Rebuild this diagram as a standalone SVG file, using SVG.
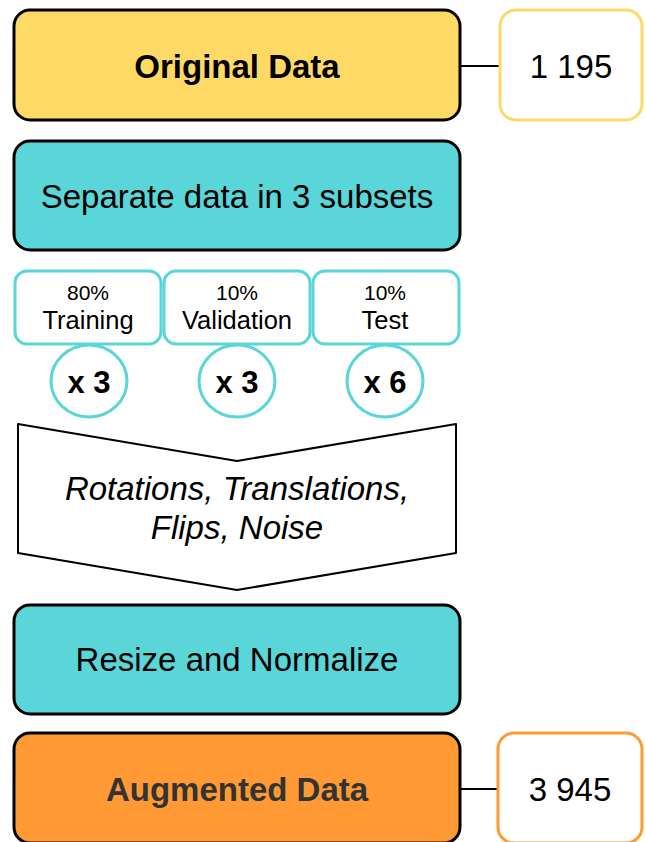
<svg xmlns="http://www.w3.org/2000/svg" width="645" height="842" viewBox="0 0 645 842">
<style>
text{font-family:"Liberation Sans",Arial,sans-serif;text-anchor:middle;fill:#000}
.main{stroke:#000;stroke-width:3}
.teal{fill:#5AD5D8}
.sub{fill:#fff;stroke:#5AD5D8;stroke-width:3}
.big{font-size:33px}
.bold{font-weight:bold}
</style>
<rect width="645" height="842" fill="#fff"/>
<g id="connectors" stroke="#000" stroke-width="2">
<line x1="460" y1="66" x2="499" y2="66"/>
<line x1="460" y1="789" x2="497" y2="789"/>
</g>
<g id="original">
<rect class="main" x="14" y="10" width="446" height="110" rx="16" fill="#FFD966"/>
<text x="237" y="78" class="big bold">Original Data</text>
</g>
<g id="count-original">
<rect x="500" y="10" width="142" height="110" rx="16" fill="#fff" stroke="#FFD966" stroke-width="3"/>
<text x="571" y="78" class="big">1 195</text>
</g>
<g id="separate">
<rect class="main teal" x="14" y="141" width="446" height="109" rx="16"/>
<text x="237" y="208" class="big">Separate data in 3 subsets</text>
</g>
<g id="training">
<rect class="sub" x="15" y="271" width="146" height="73" rx="12"/>
<text x="88" y="300" style="font-size:21px">80%</text>
<text x="88" y="329" style="font-size:25.5px">Training</text>
</g>
<g id="validation">
<rect class="sub" x="164" y="271" width="146" height="73" rx="12"/>
<text x="237" y="300" style="font-size:21px">10%</text>
<text x="237" y="329" style="font-size:25.5px">Validation</text>
</g>
<g id="test">
<rect class="sub" x="313" y="271" width="146" height="73" rx="12"/>
<text x="385" y="300" style="font-size:21px">10%</text>
<text x="385" y="329" style="font-size:25.5px">Test</text>
</g>
<g id="x-training">
<ellipse class="sub" cx="89" cy="381" rx="38" ry="36"/>
<text x="89" y="393" class="bold" style="font-size:31px">x 3</text>
</g>
<g id="x-validation">
<ellipse class="sub" cx="237" cy="381" rx="38" ry="36"/>
<text x="237" y="393" class="bold" style="font-size:31px">x 3</text>
</g>
<g id="x-test">
<ellipse class="sub" cx="385" cy="381" rx="38" ry="36"/>
<text x="385" y="393" class="bold" style="font-size:31px">x 6</text>
</g>
<g id="augmentation">
<polygon points="18,424 237,461 456,424 456,553 237,590 18,553" fill="#fff" stroke="#000" stroke-width="2" stroke-linejoin="round"/>
<text x="237" y="500" class="big" style="font-style:italic">Rotations, Translations,</text>
<text x="237" y="539" class="big" style="font-style:italic">Flips, Noise</text>
</g>
<g id="resize">
<rect class="main teal" x="14" y="605" width="446" height="109" rx="16"/>
<text x="237" y="671" class="big">Resize and Normalize</text>
</g>
<g id="augmented">
<rect class="main" x="14" y="733" width="446" height="110" rx="16" fill="#FF9933"/>
<text x="237" y="801" class="big bold" style="fill:#333">Augmented Data</text>
</g>
<g id="count-augmented">
<rect x="498" y="733" width="144" height="110" rx="16" fill="#fff" stroke="#FF9933" stroke-width="3"/>
<text x="570" y="801" class="big">3 945</text>
</g>
</svg>
